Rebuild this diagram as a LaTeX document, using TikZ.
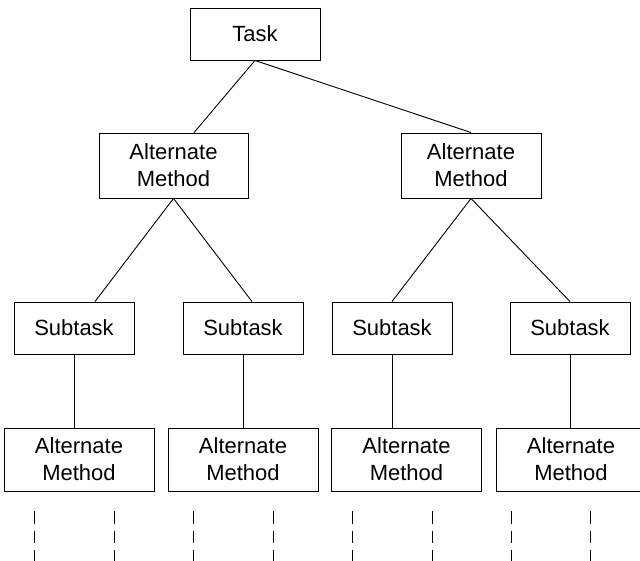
\documentclass[tikz,border=0pt]{standalone}
\usepackage{fontspec}
\setmainfont{Liberation Sans}
\begin{document}
\begin{tikzpicture}[x=1pt,y=-1pt,
  box/.style={draw,line width=0.9pt,align=center,inner sep=0pt,
    font=\fontsize{22}{27}\selectfont},
  link/.style={line width=0.9pt},
  dots/.style={line width=0.9pt,dash pattern=on 12.5pt off 7pt}]
\useasboundingbox (0,0) rectangle (640,560);
\node[box,minimum width=130pt,minimum height=52pt] (task) at (255,34) {Task};
\node[box,minimum width=149pt,minimum height=65pt] (a1) at (173.5,165.5) {Alternate\\Method};
\node[box,minimum width=140pt,minimum height=65pt] (a2) at (471,165.5) {Alternate\\Method};
\foreach \n/\x in {s1/74,s2/243,s3/392,s4/570}
  \node[box,minimum width=120pt,minimum height=52pt] (\n) at (\x,328) {Subtask};
\foreach \n/\x in {b1/79,b2/243,b3/406.5,b4/571}
  \node[box,minimum width=150pt,minimum height=63pt] (\n) at (\x,459.5) {Alternate\\Method};
\draw[link] (task.south) -- ([xshift=20.5pt]a1.north);
\draw[link] (task.south) -- (a2.north);
\draw[link] (a1.south) -- ([xshift=21pt]s1.north);
\draw[link] (a1.south) -- ([xshift=9pt]s2.north);
\draw[link] (a2.south) -- (s3.north);
\draw[link] (a2.south) -- (s4.north);
\foreach \s/\b in {s1/b1,s2/b2,s3/b3,s4/b4}
  \draw[link] (\s.south) -- (\s.south |- \b.north);
\coordinate (floor) at (0,562);
\foreach \i/\x in {1/34,2/114,3/193,4/273,5/352,6/432,7/511,8/590}{
  \coordinate (d\i) at (\x,511);
  \draw[dots] (d\i) -- (d\i |- floor);
}
\end{tikzpicture}
\end{document}
